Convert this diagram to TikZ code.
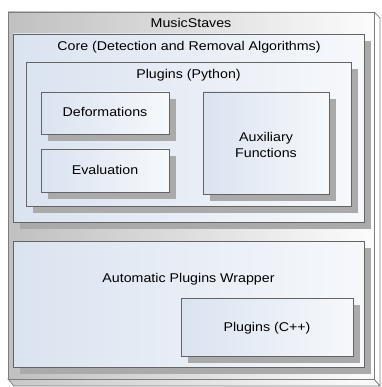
\documentclass[tikz,border=0pt]{standalone}
\usepackage{fontspec}
\setmainfont{Liberation Sans}[FakeStretch=1.12]
\usetikzlibrary{shadows,fit}
\definecolor{boxl}{RGB}{218,227,240}
\definecolor{boxr}{RGB}{246,248,251}
\definecolor{edge}{RGB}{100,100,100}
\definecolor{shd}{RGB}{170,170,170}
\definecolor{outl}{RGB}{192,192,192}
\definecolor{outr}{RGB}{252,252,252}
\definecolor{botl}{RGB}{200,200,200}
\definecolor{outedge}{RGB}{125,125,125}
\begin{document}
\begin{tikzpicture}[x=1pt,y=-1pt,
  box/.style={draw=edge, line width=0.8pt, left color=boxl, right color=boxr,
    drop shadow={shadow xshift=7pt, shadow yshift=-7pt, fill=shd, opacity=1},
    inner sep=0pt, outer sep=0pt},
  lbl/.style={font=\fontsize{12.7}{16}\selectfont, text=black, align=center},
  tag/.style={lbl, anchor=base}]
\useasboundingbox (0,0) rectangle (381,387);
% outer cuboid
\draw[outedge, line width=0.7pt, left color=botl, right color=outr]
  (8,379) -- (374,379) -- (380,386) -- (14,386) -- cycle;
\draw[outedge, line width=0.7pt, fill=white]
  (374,12) -- (380,18) -- (380,386) -- (374,379) -- cycle;
\node[draw=outedge, line width=0.7pt, left color=outl, right color=outr,
  inner sep=0pt, outer sep=0pt, fit={(8,12) (374,379)}] (outer) {};
\node[tag] (outerlbl) at (191,27.3) {MusicStaves};
% core
\node[box, fit={(13,34) (364,222)}] (core) {};
\node[tag] (corelbl) at (189,50.3) {Core (Detection and Removal Algorithms)};
\node[box, fit={(26,62) (351,206)}] (py) {};
\node[tag] (pylbl) at (188.5,78.5) {Plugins (Python)};
\node[box, fit={(41,92) (169,134)}] (deform) {};
\node[tag] (deformlbl) at (105,117) {Deformations};
\node[box, fit={(41,149) (169,192)}] (eval) {};
\node[tag] (evallbl) at (105,175) {Evaluation};
\node[box, fit={(203,92) (329,194)}] (aux) {};
\node[tag] (auxlbl1) at (266,141.5) {Auxiliary};
\node[tag] (auxlbl2) at (266,157.5) {Functions};
% wrapper
\node[box, fit={(13,241) (364,367)}] (wrap) {};
\node[tag] (wraplbl) at (188.5,282) {Automatic Plugins Wrapper};
\node[box, fit={(181,298) (353,356)}] (cpp) {};
\node[tag] (cpplbl) at (267,331.5) {Plugins (C++)};
\end{tikzpicture}
\end{document}
